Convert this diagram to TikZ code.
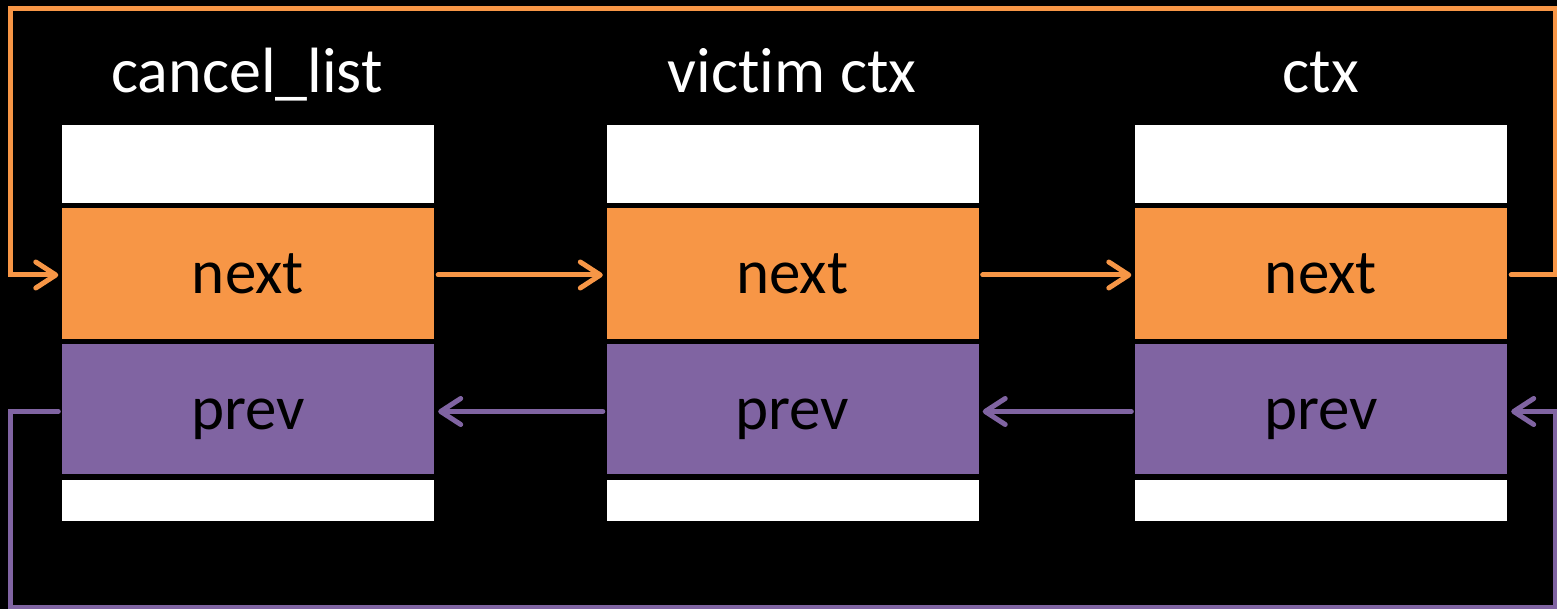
\documentclass[tikz,border=0pt]{standalone}
\usepackage{fontspec}
\setmainfont{Carlito}[Ligatures=NoCommon]
\usetikzlibrary{arrows.meta,positioning}
\definecolor{listorange}{HTML}{F79646}
\definecolor{listpurple}{HTML}{8064A2}
\begin{document}
\begin{tikzpicture}[x=1pt,y=-1pt,
  cell/.style={rectangle,inner sep=0pt,minimum width=372pt,
    font=\fontsize{63}{70}\selectfont,text height=41pt,text depth=0pt},
  blank/.style={cell,fill=white},
  nextcell/.style={cell,fill=listorange,minimum height=131pt},
  prevcell/.style={cell,fill=listpurple,minimum height=130pt},
  title/.style={anchor=base,text=white,font=\fontsize{64}{70}\selectfont,inner sep=0pt},
  link/.style={line width=5pt,line cap=round,line join=miter},
  fwd/.style={link,draw=listorange,-{Straight Barb[round,length=20pt,width=26pt]}},
  bwd/.style={link,draw=listpurple,-{Straight Barb[round,length=20pt,width=26pt]}},
]
% canvas
\useasboundingbox (0,0) rectangle (1557,609);
\fill[black] (0,0) rectangle (1557,609);

% three list entries: header, next, prev, footer
\foreach \c/\x in {1/248,2/792.5,3/1321}{
  \node[blank,minimum height=78pt] (t\c) at (\x,164) {};
  \node[nextcell] (n\c) at (\x,273.5) {next};
  \node[prevcell] (p\c) at (\x,409) {prev};
  \node[blank,minimum height=40pt] (b\c) at (\x,500) {};
}

% titles
\node[title] (h1) at (247,93) {cancel\_list};
\node[title] (h2) at (792,93) {victim ctx};
\node[title] (h3) at (1321,93) {ctx};

% anchor points for the links
\foreach \c in {1,2,3}{
  \coordinate (nw\c) at ([xshift=-3.5pt,yshift=-1.5pt]n\c.west);
  \coordinate (ne\c) at ([xshift=4pt,yshift=-1.5pt]n\c.east);
  \coordinate (pw\c) at ([xshift=-3.5pt,yshift=-2.5pt]p\c.west);
  \coordinate (pe\c) at ([xshift=4pt,yshift=-2.5pt]p\c.east);
}
\coordinate (ortop) at (1555,9);
\coordinate (orleft) at (10.5,9);
\coordinate (pubot) at (10.5,607);
\coordinate (puright) at (1555,607);

% forward links
\draw[fwd] (ne1) -- (nw2);
\draw[fwd] (ne2) -- (nw3);
\draw[fwd] (ne3) -| (ortop) -- (orleft) |- (nw1);

% backward links
\draw[bwd] (pw2) -- (pe1);
\draw[bwd] (pw3) -- (pe2);
\draw[bwd] (pw1) -| (pubot) -- (puright) |- (pe3);
\end{tikzpicture}
\end{document}
